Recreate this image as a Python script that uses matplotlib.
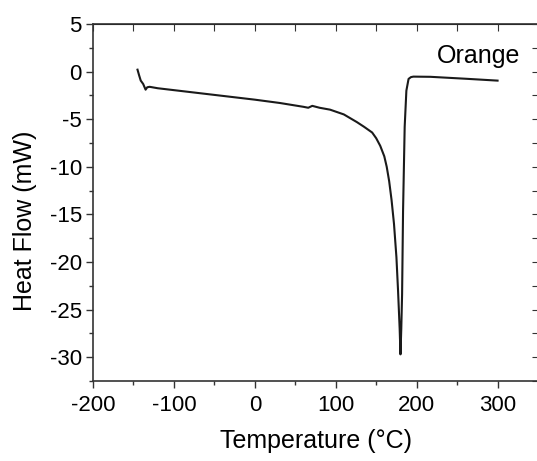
# DSC curve of the "Orange" sample: heat flow vs temperature.
import matplotlib.pyplot as plt
from matplotlib.ticker import MultipleLocator

plt.rcParams["font.family"] = ["Liberation Sans", "DejaVu Sans"]
plt.rcParams["axes.unicode_minus"] = False

# --- data ---
temperature = [-145, -143, -141, -138, -135, -133, -130, -120, -100, -85, -50, 0,
               31, 60, 66, 71, 80, 93, 110, 126, 135, 145, 150, 155, 160, 163,
               166, 169, 172, 175, 177, 179, 180, 181, 182, 183.2, 185.2, 187.3,
               190, 193, 196, 217, 260, 300]
heat_flow = [0.2, -0.4, -0.95, -1.3, -1.9, -1.65, -1.6, -1.75, -1.95, -2.1, -2.45, -2.95,
             -3.3, -3.7, -3.8, -3.6, -3.8, -4.0, -4.5, -5.3, -5.8, -6.4, -7.0, -7.8,
             -8.9, -10.0, -11.5, -13.5, -16.0, -19.5, -23.0, -27.0, -29.7, -27.0,
             -23.4, -14.6, -5.8, -2.0, -0.77, -0.58, -0.53, -0.55, -0.75, -0.95]
sample = "Orange"

fig = plt.figure(figsize=(5.37, 4.61), dpi=100)
ax = fig.add_axes([0.1732, 0.1735, 0.8287, 0.7745])

ax.plot(temperature, heat_flow, color="#1a1a1a", linewidth=1.5)

ax.set_xlim(-200, 350)
ax.set_ylim(-32.5, 5)
ax.xaxis.set_major_locator(MultipleLocator(100))
ax.xaxis.set_minor_locator(MultipleLocator(50))
ax.yaxis.set_major_locator(MultipleLocator(5))
ax.yaxis.set_minor_locator(MultipleLocator(2.5))

# ticks: outward on bottom/left, inward on top/right
ax.tick_params(axis="both", which="both", direction="out", color="#333333",
               labelsize=16, width=1.0)
ax.tick_params(which="major", length=5)
ax.tick_params(which="minor", length=3)
ax.tick_params(axis="x", which="major", pad=5)
ax.tick_params(axis="y", which="major", pad=3)

top = ax.secondary_xaxis("top")
top.set_xticks(range(-200, 351, 50))
top.tick_params(direction="in", length=5, labeltop=False, color="#333333")
right = ax.secondary_yaxis("right")
right.set_yticks([v * 2.5 for v in range(-13, 3)])
right.tick_params(direction="in", length=4, labelright=False, color="#333333")

for sp in ax.spines.values():
    sp.set_linewidth(1.2)
    sp.set_color("#333333")

ax.set_xlabel("Temperature (°C)", fontsize=18)
ax.set_ylabel("Heat Flow (mW)", fontsize=18)
ax.xaxis.set_label_coords(0.5, -0.135)
ax.yaxis.set_label_coords(-0.125, 0.45)

ax.text(0.772, 0.89, sample, transform=ax.transAxes, fontsize=18,
        ha="left", va="baseline")

fig.savefig("out.png", dpi=100)
